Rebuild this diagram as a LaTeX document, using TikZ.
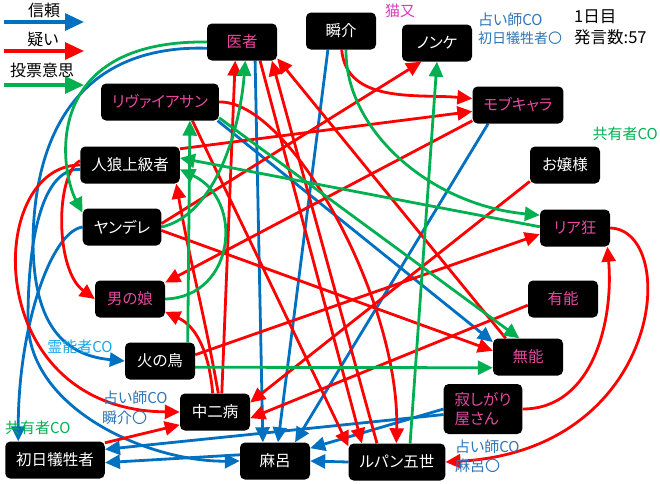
\documentclass[tikz,border=0pt]{standalone}
\usepackage{fontspec}
\setmainfont{Noto Sans CJK JP}[RawFeature=+palt]
\usepackage{tikz}
\usetikzlibrary{arrows.meta,backgrounds}
\definecolor{trustblue}{RGB}{0,112,192}
\definecolor{doubtred}{RGB}{255,0,0}
\definecolor{votegreen}{RGB}{0,176,80}
\definecolor{rolepink}{RGB}{230,72,160}
\definecolor{catpink}{RGB}{214,60,190}
\definecolor{seerblue}{RGB}{46,117,182}
\definecolor{mediumblue}{RGB}{20,165,235}
\newcommand{\trustcolor}{trustblue}
\newcommand{\doubtcolor}{doubtred}
\newcommand{\votecolor}{votegreen}
\newcommand{\edgewidth}{2.8pt}
\newcommand{\headlen}{15pt}
\newcommand{\headwid}{14pt}

\tikzset{
  player/.style={fill=black, rounded corners=5pt, text=white, minimum width=70pt, minimum height=37pt, inner xsep=11pt, inner ysep=0pt, font=\fontsize{15.5}{19}\selectfont},
  role/.style={player, text=rolepink},
  note/.style={inner sep=0pt, font=\fontsize{15}{17}\selectfont},
  trust/.style={draw=\trustcolor, line width=\edgewidth, -{Triangle[length=\headlen,width=\headwid]}},
  doubt/.style={draw=\doubtcolor, line width=\edgewidth, -{Triangle[length=\headlen,width=\headwid]}},
  vote/.style={draw=\votecolor, line width=\edgewidth, -{Triangle[length=\headlen,width=\headwid]}},
  keyarrow/.style={line width=3.2pt, -{Triangle[length=19pt,width=17pt]}}
}

\begin{document}
\begin{tikzpicture}[x=1pt, y=-1pt]
\useasboundingbox (0,0) rectangle (660,483);
%players
\node[role] (isha) at (242,42) {医者};
\node[player] (shunsuke) at (341,31) {瞬介};
\node[player] (nonke) at (437,43) {ノンケ};
\node[role] (mobu) at (518,105) {モブキャラ};
\node[role] (leviathan) at (160,102) {リヴァイアサン};
\node[player] (jinro) at (130,165) {人狼上級者};
\node[player] (ojou) at (565,165) {お嬢様};
\node[player] (yandere) at (122,227) {ヤンデレ};
\node[role] (riakyo) at (575,228) {リア狂};
\node[role] (otokonoko) at (130,299) {男の娘};
\node[role] (yuno) at (563,299) {有能};
\node[player] (hinotori) at (160,361) {火の鳥};
\node[role] (muno) at (528,357) {無能};
\node[role, minimum height=50pt, align=left] (sabishi) at (483,409) {寂しがり\\屋さん};
\node[player] (chuni) at (215,412) {中二病};
\node[player] (shonichi) at (55,460) {初日犠牲者};
\node[player] (maro) at (275,461) {麻呂};
\node[player] (lupin) at (397,462) {ルパン五世};
%notes
\node[note, text=catpink] (nekomata) at (400,11) {猫又};
\node[note, text=seerblue, anchor=west] (seerA) at (478,20) {占い師CO};
\node[note, text=seerblue, anchor=west, font=\fontsize{14}{16}\selectfont] (seerAb) at (478,38) {初日犠牲者〇};
\node[note, anchor=west, font=\fontsize{16.5}{18}\selectfont] (day) at (574,17) {1日目};
\node[note, anchor=west, font=\fontsize{16.5}{18}\selectfont] (count) at (574,37) {発言数:57};
\node[note, text=votegreen, anchor=east] (shareA) at (658,134) {共有者CO};
\node[note, text=mediumblue] (medium) at (80,347) {霊能者CO};
\node[note, text=seerblue, anchor=west] (seerB) at (103,398) {占い師CO};
\node[note, text=seerblue, anchor=west] (seerBb) at (102,418) {瞬介〇};
\node[note, text=votegreen, anchor=west] (shareB) at (5,428) {共有者CO};
\node[note, text=seerblue, anchor=west] (seerC) at (455,447) {占い師CO};
\node[note, text=seerblue, anchor=west] (seerCb) at (455,466) {麻呂〇};
%key
\node[note, font=\fontsize{16}{18}\selectfont] (keytrust) at (44,10) {信頼};
\node[note, font=\fontsize{16}{18}\selectfont] (keydoubt) at (43,39) {疑い};
\node[note, font=\fontsize{16}{18}\selectfont] (keyvote) at (42,70) {投票意思};
\coordinate (trustA) at (4,22);
\coordinate (trustB) at (84,22);
\coordinate (doubtA) at (4,51);
\coordinate (doubtB) at (84,51);
\coordinate (voteA) at (4,85);
\coordinate (voteB) at (84,85);
\draw[trust, keyarrow] (trustA) -- (trustB);
\draw[doubt, keyarrow] (doubtA) -- (doubtB);
\draw[vote, keyarrow] (voteA) -- (voteB);
\begin{scope}[on background layer]
%trust
\draw[trust] (isha.190) .. controls (90,45) and (35,120) .. (33,240) .. controls (33,320) and (60,355) .. (hinotori.west);
\draw[trust] (jinro.185) .. controls (45,168) and (28,230) .. (28,320) .. controls (28,410) and (150,462) .. (maro.west);
\draw[trust] (yandere.west) .. controls (50,232) and (18,330) .. (shonichi.153);
\draw[trust] (isha.-55) -- (maro.123);
\draw[trust] (shunsuke.235) -- (maro.81);
\draw[trust] (mobu.212) -- (maro.43);
\draw[trust] (leviathan.-18) -- (muno.157);
\draw[trust] (sabishi.west) -- (maro.20);
\draw[trust] (sabishi.188) -- (shonichi.12);
\draw[trust] (lupin.west) -- (maro.east);
\draw[trust] (maro.170) -- (shonichi.-3);
%doubt
\draw[doubt] (chuni.97) to[out=95,in=-25] (otokonoko.-20);
\draw[doubt] (chuni.80) to[out=100,in=-80] (jinro.-22);
\draw[doubt] (chuni.70) -- (isha.-110);
\draw[doubt] (jinro.175) .. controls (55,175) and (55,270) .. (otokonoko.west);
\draw[doubt] (jinro.west) .. controls (-15,165) and (-20,410) .. (chuni.west);
\draw[doubt] (jinro.18) -- (mobu.188);
\draw[doubt] (mobu.199) -- (otokonoko.25);
\draw[doubt] (shunsuke.-88) to[out=-85,in=175] (mobu.172);
\draw[doubt] (yandere.5) -- (nonke.-130);
\draw[doubt] (yandere.-5) -- (muno.170);
\draw[doubt] (leviathan.-30) -- (lupin.162);
\draw[doubt] (leviathan.east) .. controls (290,100) and (400,300) .. (lupin.92);
\draw[doubt] (isha.-46) -- (lupin.152);
\draw[doubt] (lupin.137) -- (isha.-32);
\draw[doubt] (muno.140) -- (isha.-25);
\draw[doubt] (ojou.205) -- (chuni.15);
\draw[doubt] (yuno.190) -- (chuni.-10);
\draw[doubt] (hinotori.10) -- (riakyo.190);
\draw[doubt] (sabishi.east) to[out=0,in=-85] (riakyo.-30);
\draw[doubt] (riakyo.east) .. controls (680,230) and (665,450) .. (lupin.east);
\draw[doubt] (shonichi.19) -- (chuni.200);
%vote
\draw[vote] (isha.180) .. controls (40,40) and (60,170) .. (yandere.160);
\draw[vote] (yandere.east) .. controls (215,215) and (240,130) .. (isha.-80);
\draw[vote] (hinotori.34) -- (leviathan.-32);
\draw[vote] (hinotori.-10) -- (muno.197);
\draw[vote] (otokonoko.east) .. controls (235,297) and (245,200) .. (jinro.-5);
\draw[vote] (riakyo.178) -- (jinro.8);
\draw[vote] (shunsuke.-75) .. controls (345,130) and (430,205) .. (riakyo.160);
\draw[vote] (lupin.55) -- (nonke.south);
\draw[vote] (leviathan.-15) -- (muno.115);
\end{scope}
\end{tikzpicture}
\end{document}
